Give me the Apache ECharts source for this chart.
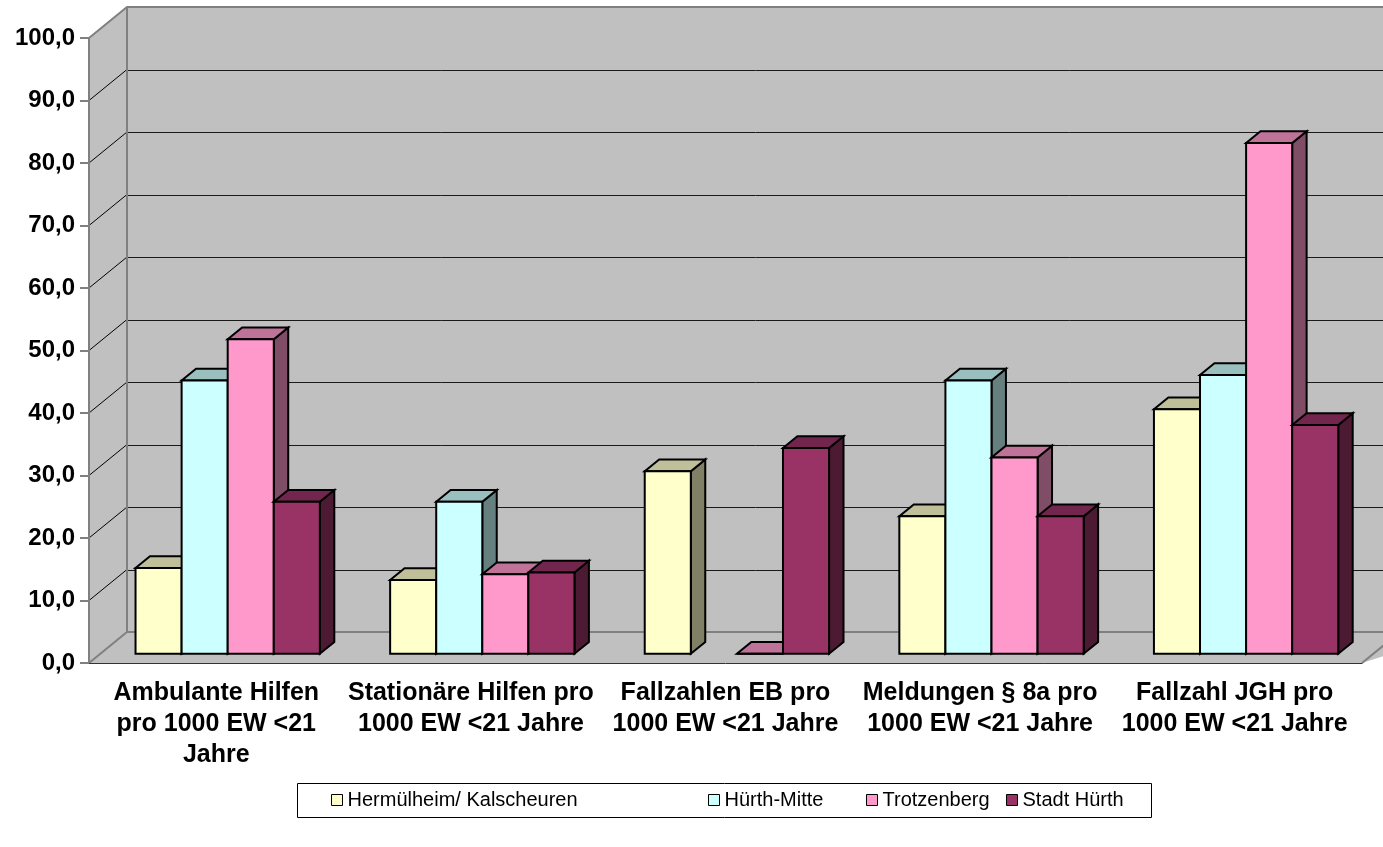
<!DOCTYPE html>
<html>
<head>
<meta charset="utf-8">
<script src="https://cdn.jsdelivr.net/npm/echarts@6/dist/echarts.min.js"></script>
<style>
  html, body { margin: 0; padding: 0; background: #ffffff; }
  #chart { width: 1383px; height: 847px; }
</style>
</head>
<body>
<div id="chart"></div>
<script>
// ---- data ----
const categories = [
  'Ambulante Hilfen\npro 1000 EW <21\nJahre',
  'Stationäre Hilfen pro\n1000 EW <21 Jahre',
  'Fallzahlen EB pro\n1000 EW <21 Jahre',
  'Meldungen § 8a pro\n1000 EW <21 Jahre',
  'Fallzahl JGH pro\n1000 EW <21 Jahre'
];
const seriesNames = ['Hermülheim/ Kalscheuren', 'Hürth-Mitte', 'Trotzenberg', 'Stadt Hürth'];
const hermuelheim = [13.7, 11.8, 29.2, 22.0, 39.1];
const huerthMitte = [43.7, 24.3, null, 43.7, 44.6];
const trotzenberg = [50.3, 12.7, 0.0, 31.4, 81.7];
const stadtHuerth = [24.3, 13.0, 32.9, 22.0, 36.6];
const yMin = 0, yMax = 100, yStep = 10;

// ---- styling ----
const seriesColors = ['#FFFFCC', '#CCFFFF', '#FF99CC', '#993366'];
const FONT = '"Liberation Sans", Arial, sans-serif';
const WALL = '#C0C0C0';
const EDGE = '#808080';

// 3D projection: full depth of the plot box and the slab occupied by the bars
const DEPTH_X = 38, DEPTH_Y = -31;
const BAR_FRONT = 0.30, BAR_BACK = 0.68;
const BAR_SHARE = 0.181; // bar width as share of category band

function shade(hex, k) {
  const n = parseInt(hex.slice(1), 16);
  const r = Math.round(((n >> 16) & 255) * k);
  const g = Math.round(((n >> 8) & 255) * k);
  const b = Math.round((n & 255) * k);
  return 'rgb(' + r + ',' + g + ',' + b + ')';
}
const px = v => Math.round(v) + 0.5;

function wallsRenderer(params, api) {
  const cs = params.coordSys;
  const xL = cs.x, xR = cs.x + cs.width;
  const y0 = api.coord([0, yMin])[1];
  const yT = api.coord([0, yMax])[1];
  const kids = [];
  // back wall
  kids.push({ type: 'rect', shape: { x: xL + DEPTH_X, y: yT + DEPTH_Y, width: cs.width + 60, height: y0 - yT },
    style: { fill: WALL } });
  // side wall
  kids.push({ type: 'polygon', shape: { points: [[xL, yT], [xL + DEPTH_X, yT + DEPTH_Y], [xL + DEPTH_X, y0 + DEPTH_Y], [xL, y0]] },
    style: { fill: WALL } });
  // floor
  kids.push({ type: 'polygon', shape: { points: [[xL, y0], [xL + DEPTH_X, y0 + DEPTH_Y], [xR + DEPTH_X + 60, y0 + DEPTH_Y], [xR, y0]] },
    style: { fill: WALL } });
  // gridlines on back and side walls
  for (let v = yMin + yStep; v < yMax; v += yStep) {
    const y = api.coord([0, v])[1];
    kids.push({ type: 'line', shape: { x1: xL + DEPTH_X, y1: px(y + DEPTH_Y), x2: xR + DEPTH_X + 60, y2: px(y + DEPTH_Y) },
      style: { stroke: '#1a1a1a', lineWidth: 1 } });
    kids.push({ type: 'line', shape: { x1: xL, y1: y, x2: xL + DEPTH_X, y2: y + DEPTH_Y },
      style: { stroke: '#000', lineWidth: 1 } });
  }
  // wall edges
  const edge = { stroke: EDGE, lineWidth: 2 };
  kids.push({ type: 'polyline', shape: { points: [[xL, yT], [xL + DEPTH_X, yT + DEPTH_Y], [xR + DEPTH_X + 60, yT + DEPTH_Y]] }, style: Object.assign({ fill: null }, edge) });
  kids.push({ type: 'line', shape: { x1: xL + DEPTH_X, y1: yT + DEPTH_Y, x2: xL + DEPTH_X, y2: y0 + DEPTH_Y }, style: edge });
  kids.push({ type: 'polyline', shape: { points: [[xL, y0], [xL + DEPTH_X, y0 + DEPTH_Y], [xR + DEPTH_X + 60, y0 + DEPTH_Y]] }, style: Object.assign({ fill: null }, edge) });
  kids.push({ type: 'line', shape: { x1: xR, y1: y0, x2: xR + DEPTH_X, y2: y0 + DEPTH_Y }, style: edge });
  kids.push({ type: 'line', shape: { x1: xL, y1: yT, x2: xL, y2: y0 }, style: edge });
  return { type: 'group', children: kids };
}

function barRenderer(idx) {
  return function (params, api) {
    const cat = api.value(0), v = api.value(1);
    if (v === null || v === undefined || isNaN(v)) return null;
    const top = api.coord([cat, v]);
    const base = api.coord([cat, yMin]);
    const band = api.size([1, 0])[0];
    const bw = band * BAR_SHARE;
    const fx = BAR_FRONT * DEPTH_X, fy = BAR_FRONT * DEPTH_Y;
    const ddx = (BAR_BACK - BAR_FRONT) * DEPTH_X, ddy = (BAR_BACK - BAR_FRONT) * DEPTH_Y;
    const x0 = top[0] - 2 * bw + idx * bw + fx;
    const x1 = x0 + bw;
    const yT = top[1] + fy, yB = base[1] + fy;
    const col = seriesColors[idx];
    const line = { stroke: '#000', lineWidth: 2, lineJoin: 'miter' };
    return {
      type: 'group',
      children: [
        { type: 'polygon', shape: { points: [[x1, yT], [x1 + ddx, yT + ddy], [x1 + ddx, yB + ddy], [x1, yB]] },
          style: Object.assign({ fill: shade(col, 0.5) }, line) },
        { type: 'polygon', shape: { points: [[x0, yT], [x1, yT], [x1 + ddx, yT + ddy], [x0 + ddx, yT + ddy]] },
          style: Object.assign({ fill: shade(col, 0.75) }, line) },
        { type: 'rect', shape: { x: x0, y: yT, width: bw, height: yB - yT },
          style: Object.assign({ fill: col }, line) }
      ]
    };
  };
}

const values = [hermuelheim, huerthMitte, trotzenberg, stadtHuerth];
const barSeries = values.map((arr, i) => ({
  name: seriesNames[i],
  type: 'custom',
  z: 2,
  clip: false,
  itemStyle: { color: seriesColors[i] },
  renderItem: barRenderer(i),
  encode: { x: 0, y: 1 },
  data: arr.map((v, c) => [c, v === null ? '-' : v])
}));

const legendLeft = [331, 708, 866, 1006];
const legends = seriesNames.map((n, i) => ({
  data: [n],
  left: legendLeft[i],
  top: 790,
  padding: 0,
  icon: 'rect',
  itemWidth: 11,
  itemHeight: 11,
  selectedMode: false,
  itemStyle: { borderColor: '#000', borderWidth: 1 },
  textStyle: { fontFamily: FONT, fontSize: 20, color: '#000' }
}));

const chart = echarts.init(document.getElementById('chart'), null, { renderer: 'canvas' });
chart.setOption({
  animation: false,
  backgroundColor: '#ffffff',
  grid: { left: 89, right: 21, top: 38, bottom: 184 },
  legend: legends,
  graphic: [{
    type: 'rect', z: 10,
    shape: { x: 297.5, y: 783.5, width: 854, height: 34 },
    style: { fill: null, stroke: '#000', lineWidth: 1 }
  }],
  xAxis: {
    type: 'category',
    data: categories,
    z: 5,
    boundaryGap: true,
    axisLine: { lineStyle: { color: '#333', width: 1 } },
    axisTick: { length: 10, lineStyle: { color: '#000', width: 1 } },
    axisLabel: {
      interval: 0, margin: 15, color: '#000', fontFamily: FONT,
      fontWeight: 'bold', fontSize: 25, lineHeight: 31, align: 'center'
    },
    splitLine: { show: false }
  },
  yAxis: {
    type: 'value', min: yMin, max: yMax, interval: yStep,
    z: 5,
    axisLine: { show: false },
    axisTick: { show: true, length: 9, lineStyle: { color: EDGE, width: 2 } },
    axisLabel: {
      margin: 14, color: '#000', fontFamily: FONT, fontWeight: 'bold', fontSize: 24,
      formatter: v => v.toFixed(1).replace('.', ',')
    },
    splitLine: { show: false }
  },
  series: [{
    type: 'custom',
    z: 1,
    clip: false,
    silent: true,
    renderItem: wallsRenderer,
    encode: { x: 0, y: 1 },
    data: [[0, 0]]
  }].concat(barSeries)
});
</script>
</body>
</html>
